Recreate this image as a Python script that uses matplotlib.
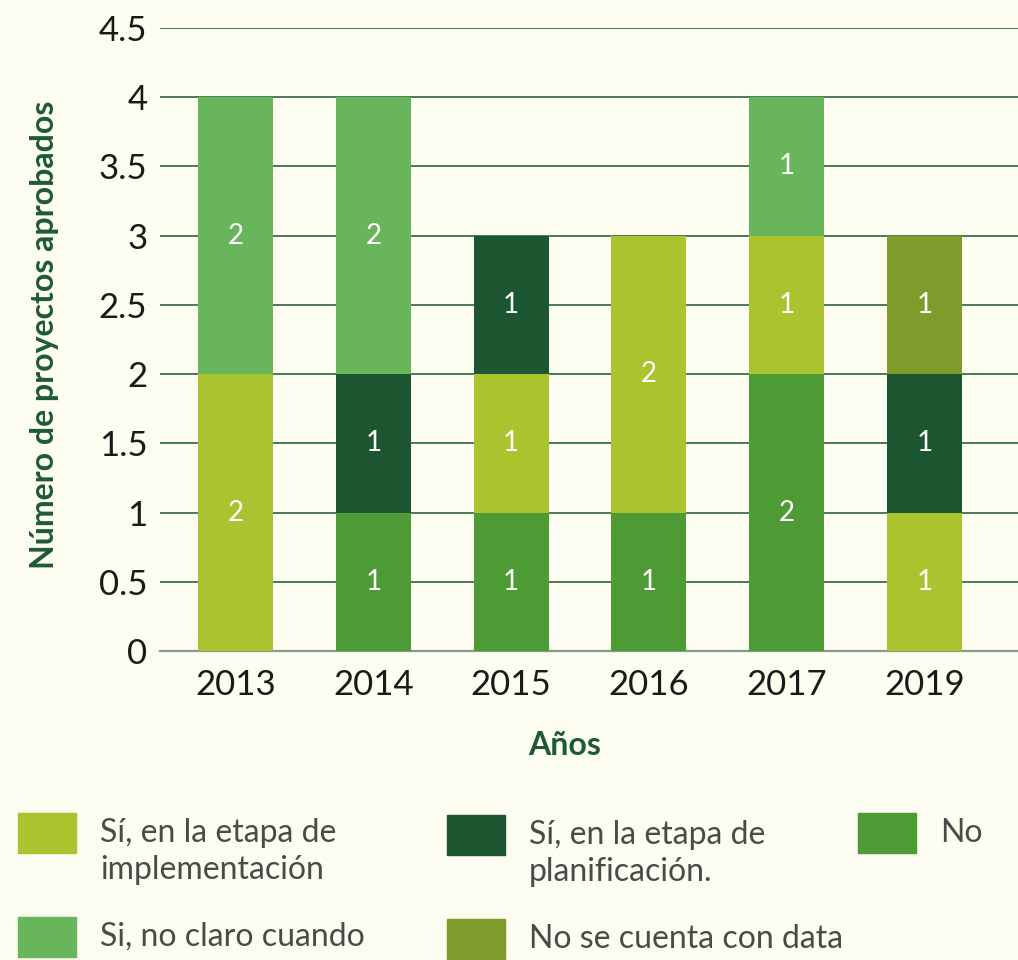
import numpy as np
import matplotlib
matplotlib.use("Agg")
import matplotlib.pyplot as plt
from matplotlib.patches import Rectangle

# --- datos ---
anios = ["2013", "2014", "2015", "2016", "2017", "2019"]
no = [0, 1, 1, 1, 2, 0]
implementacion = [2, 0, 1, 2, 1, 1]
planificacion = [0, 1, 1, 0, 0, 1]
no_claro = [2, 2, 0, 0, 1, 0]
sin_data = [0, 0, 0, 0, 0, 1]

series = [no, implementacion, planificacion, no_claro, sin_data]
colores = ["#4e9a34", "#aac32f", "#1d5731", "#69b55c", "#7f9b2b"]
leyendas = [
    ("Sí, en la etapa de\nimplementación", colores[1]),
    ("Sí, en la etapa de\nplanificación.", colores[2]),
    ("No", colores[0]),
    ("Si, no claro cuando", colores[3]),
    ("No se cuenta con data", colores[4]),
]

FONDO = "#fcfcf0"
VERDE_TXT = "#1e5a32"
plt.rcParams["font.family"] = ["Lato", "DejaVu Sans"]

fig = plt.figure(figsize=(10.18, 9.6), dpi=100, facecolor=FONDO)
ax = fig.add_axes([0.157, 0.3219, 0.843, 0.6489], facecolor=FONDO)

x = np.arange(len(anios))
base = np.zeros(len(anios))
for vals, col in zip(series, colores):
    vals = np.array(vals, dtype=float)
    ax.bar(x, vals, bottom=base, width=0.545, color=col, zorder=3)
    for xi, b, v in zip(x, base, vals):
        if v > 0:
            ax.text(xi, b + v / 2, f"{int(v)}", ha="center", va="center",
                    color="white", fontsize=20, zorder=4)
    base += vals

ax.set_xlim(-0.55, 5.68)
ax.set_ylim(0, 4.5)
ax.set_yticks(np.arange(0, 4.51, 0.5))
ax.set_yticklabels(["0", "0.5", "1", "1.5", "2", "2.5", "3", "3.5", "4", "4.5"])
ax.set_xticks(x)
ax.set_xticklabels(anios)
ax.tick_params(axis="both", length=0, labelsize=25, labelcolor="#1a1a1a")
ax.tick_params(axis="y", pad=9)
ax.tick_params(axis="x", pad=13)
ax.grid(axis="y", color="#4a7a55", linewidth=1.4, zorder=1)
for s in ["top", "right", "left"]:
    ax.spines[s].set_visible(False)
ax.spines["bottom"].set_color("#7f9e86")
ax.spines["bottom"].set_linewidth(1.6)

ax.set_ylabel("Número de proyectos aprobados", fontsize=23, fontweight="bold",
              color=VERDE_TXT, va="center")
ax.yaxis.set_label_coords(-0.134, 0.507)
ax.set_xlabel("Años", fontsize=23, fontweight="bold", color=VERDE_TXT, va="center")
ax.xaxis.set_label_coords(0.472, -0.151)

# leyenda manual
pos = [(18, 813), (447, 815), (858, 813), (18, 917), (447, 919)]
W, H = 1018, 960
for (txt, col), (px, py) in zip(leyendas, pos):
    fig.patches.append(Rectangle((px / W, 1 - (py + 40) / H), 58 / W, 40 / H,
                                 transform=fig.transFigure, color=col))
    for i, linea in enumerate(txt.split("\n")):
        fig.text((px + 82) / W, 1 - (py + 20 + 37 * i) / H, linea, ha="left",
                 va="center", fontsize=23, color="#4a4a4a")

fig.savefig("out.png", dpi=100, facecolor=FONDO)
